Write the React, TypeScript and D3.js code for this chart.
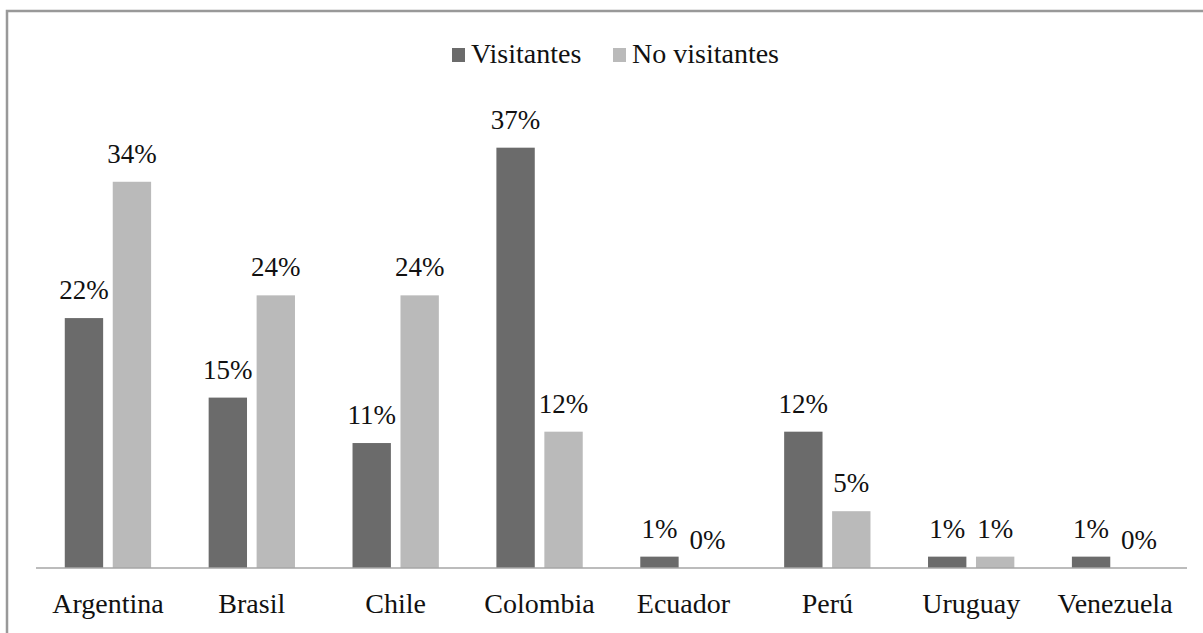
import * as d3 from "d3";

const countries = ["Argentina", "Brasil", "Chile", "Colombia", "Ecuador", "Perú", "Uruguay", "Venezuela"];
const visitantes = [22, 15, 11, 37, 1, 12, 1, 1];
const noVisitantes = [34, 24, 24, 12, 0, 5, 1, 0];
const seriesNames = ["Visitantes", "No visitantes"];
const seriesColors = ["#6b6b6b", "#bababa"];

const W = 1203;
const H = 633;

export default function App() {
  const axisY = 568;
  const x0 = d3.scaleBand<string>().domain(countries).range([36, 1187]).paddingInner(0.4).paddingOuter(0.2);
  const x1 = d3.scaleBand<string>().domain(seriesNames).range([0, x0.bandwidth()]).paddingInner(0.2);
  const y = d3.scaleLinear().domain([0, 40]).range([axisY, axisY - 40 * 11.36]);

  const series = [visitantes, noVisitantes];

  // legend positions
  const legend = [
    { sq: 452, tx: 471 },
    { sq: 613, tx: 632 },
  ];

  return (
    <svg width={W} height={H} style={{ position: "absolute", left: 0, top: 0, background: "#fff" }}>
      <rect x={7} y={11} width={W + 20} height={H + 20} fill="none" stroke="#999" strokeWidth={2.5} />

      {legend.map((l, i) => (
        <g key={seriesNames[i]}>
          <rect x={l.sq} y={48} width={13} height={14} fill={seriesColors[i]} />
          <text x={l.tx} y={63} style={{ fontFamily: '"Liberation Serif"', fontSize: 28 }} fill="#111">{seriesNames[i]}</text>
        </g>
      ))}

      {countries.map((c, ci) => (
        <g key={c} transform={`translate(${x0(c)},0)`}>
          {series.map((s, si) => {
            const bx = x1(seriesNames[si])!;
            const v = s[ci];
            const top = y(v);
            return (
              <g key={si}>
                {v > 0 && (
                  <rect x={bx} y={top} width={x1.bandwidth()} height={axisY - top} fill={seriesColors[si]} />
                )}
                <text x={bx + x1.bandwidth() / 2} y={top - 19} fontFamily="Liberation Serif" fontSize={27} textAnchor="middle" fill="#111">{`${v}%`}</text>
              </g>
            );
          })}
        </g>
      ))}

      <line x1={36} x2={1187} y1={axisY} y2={axisY} stroke="#a6a6a6" strokeWidth={1.5} />

      {countries.map((c) => (
        <text key={c} x={x0(c)! + x0.bandwidth() / 2} y={613} style={{ fontFamily: "Tinos, 'Liberation Serif', serif", fontSize: 28 }} textAnchor="middle" fill="#111">{c}</text>
      ))}
    </svg>
  );
}
